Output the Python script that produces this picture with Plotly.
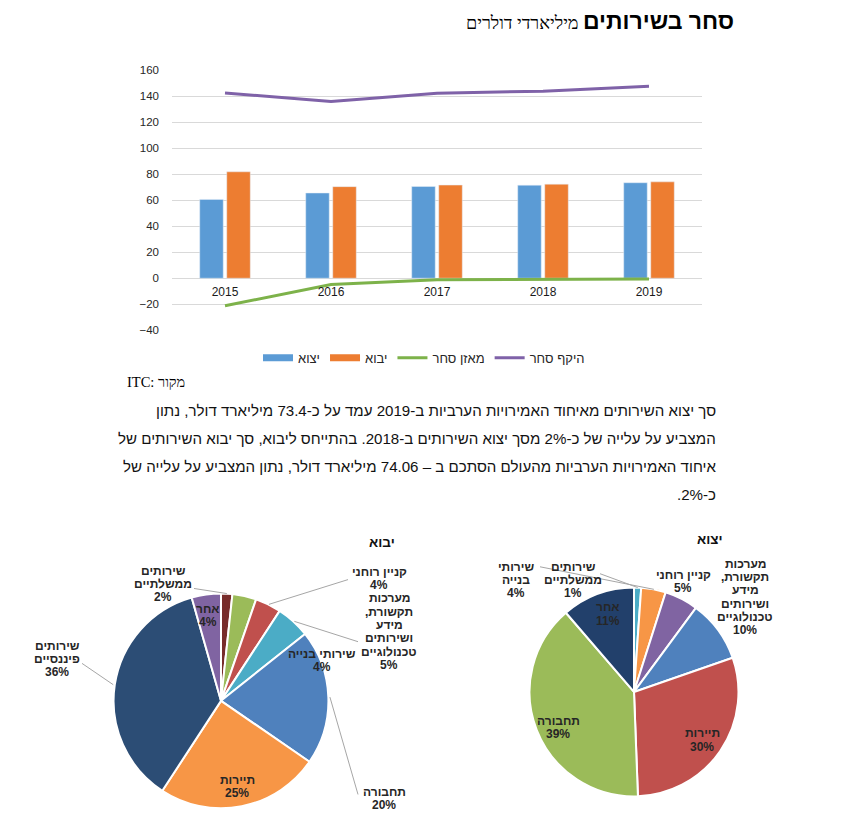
import math
import plotly.graph_objects as go

W, H = 849, 832

# ---------------- data ----------------
years = ["2015", "2016", "2017", "2018", "2019"]
exports = [60.6, 65.5, 70.5, 71.5, 73.4]
imports = [81.8, 70.4, 71.6, 72.3, 74.06]
balance = [-21.2, -4.9, -1.1, -0.8, -0.7]
total = [142.4, 135.9, 142.1, 143.8, 147.5]
y_ticks = [-40, -20, 0, 20, 40, 60, 80, 100, 120, 140, 160]
series_names = ["יצוא", "יבוא", "מאזן סחר", "היקף סחר"]

imp_names = ["שירותים ממשלתיים", "שירותי בנייה", "קניין רוחני",
             "מערכות תקשורת, מידע ושירותים טכנולוגיים", "תחבורה", "תיירות",
             "שירותים פיננסיים", "אחר"]
imp_values = [1.7, 3.6, 3.9, 5.1, 20.3, 24.6, 36.4, 4.4]

exp_names = ["שירותים ממשלתיים", "שירותי בנייה", "קניין רוחני",
             "מערכות תקשורת, מידע ושירותים טכנולוגיים", "תיירות", "תחבורה", "אחר"]
exp_values = [1.1, 3.8, 5.2, 9.6, 29.7, 39.3, 11.3]

title_main = "סחר בשירותים"
title_sub = "מיליארדי דולרים"
source_text = "ITC: מקור"
paragraph = [
    "סך יצוא השירותים מאיחוד האמירויות הערביות ב-2019 עמד על כ-73.4 מיליארד דולר, נתון",
    "המצביע על עלייה של כ-2% מסך יצוא השירותים ב-2018. בהתייחס ליבוא, סך יבוא השירותים של",
    "איחוד האמירויות הערביות מהעולם הסתכם ב – 74.06 מיליארד דולר, נתון המצביע על עלייה של",
    "כ-2%.",
]
pie_titles = ["יבוא", "יצוא"]

# ---------------- styles ----------------
C_EXP, C_IMP, C_BAL, C_TOT = "#5B9BD5", "#ED7D31", "#7DB24A", "#7F62A8"
imp_colors = ["#772C2A", "#9BBB59", "#C0504D", "#4BACC6", "#4F81BD", "#F79646", "#2C4D75", "#8064A2"]
exp_colors = ["#4BACC6", "#F79646", "#8064A2", "#4F81BD", "#C0504D", "#9BBB59", "#22406B"]
SANS = "Liberation Sans, Arimo, DejaVu Sans, sans-serif"
SERIF = "Liberation Serif, Tinos, DejaVu Serif, serif"
RLE, PDF = "\u202b", "\u202c"


def xp(px):
    return px / W


def yp(py):
    return 1 - py / H


fig = go.Figure()

# ---------------- bar / line chart ----------------
PL, PR, PT, PB = 172, 702, 65, 329
fig.add_trace(go.Bar(x=years, y=exports, marker_color=C_EXP, name=series_names[0],
                     showlegend=False, xaxis="x", yaxis="y"))
fig.add_trace(go.Bar(x=years, y=imports, marker_color=C_IMP, name=series_names[1],
                     showlegend=False, xaxis="x", yaxis="y"))
fig.add_trace(go.Scatter(x=years, y=balance, mode="lines", line=dict(color=C_BAL, width=3),
                         name=series_names[2], legendrank=3, xaxis="x", yaxis="y"))
fig.add_trace(go.Scatter(x=years, y=total, mode="lines", line=dict(color=C_TOT, width=3),
                         name=series_names[3], legendrank=4, xaxis="x", yaxis="y"))
# legend entries for bars (flat wide swatches like the original)
fig.add_trace(go.Scatter(x=[None], y=[None], mode="lines", line=dict(color=C_EXP, width=7),
                         name=series_names[0], legendrank=1, xaxis="x", yaxis="y"))
fig.add_trace(go.Scatter(x=[None], y=[None], mode="lines", line=dict(color=C_IMP, width=7),
                         name=series_names[1], legendrank=2, xaxis="x", yaxis="y"))

ymin, ymax = y_ticks[0], y_ticks[-1]
y_dom = [yp(PB), yp(PT)]
zero_pos = y_dom[0] + (0 - ymin) / (ymax - ymin) * (y_dom[1] - y_dom[0])

# ---------------- pies ----------------
PIES = [(221, 705, 109), (634, 696, 106)]


def dom(cx, cy, r):
    return dict(x=[xp(cx - r), xp(cx + r)], y=[yp(cy + r), yp(cy - r)])


fig.add_trace(go.Pie(labels=imp_names, values=imp_values, sort=False, direction="clockwise",
                     rotation=0, textinfo="none", hoverinfo="label+percent",
                     marker=dict(colors=imp_colors, line=dict(color="white", width=2)),
                     domain=dom(*PIES[0]), showlegend=False))
fig.add_trace(go.Pie(labels=exp_names, values=exp_values, sort=False, direction="clockwise",
                     rotation=0, textinfo="none", hoverinfo="label+percent",
                     marker=dict(colors=exp_colors, line=dict(color="white", width=2)),
                     domain=dom(*PIES[1]), showlegend=False))

annotations = []
shapes = []


def text(s, x, y, size, color="#1a1a1a", family=SANS, bold=False, xanchor="center",
         yanchor="middle"):
    annotations.append(dict(text=s, x=xp(x), y=yp(y), xref="paper", yref="paper",
                            showarrow=False, xanchor=xanchor, yanchor=yanchor,
                            font=dict(size=size, color=color, family=family,
                                      weight="bold" if bold else "normal")))


def block(lines, cx, y_first, spacing=13.5, size=12, color="#262626"):
    for i, ln in enumerate(lines):
        text(RLE + ln + PDF, cx, y_first + i * spacing, size, color=color, bold=True)


def pct(values, i):
    return f"{round(values[i] / sum(values) * 100)}%"


def edge(values, i, cx, cy, r):
    tot = sum(values)
    frac = (sum(values[:i]) + values[i] / 2) / tot
    a = 2 * math.pi * frac
    return cx + r * math.sin(a), cy - r * math.cos(a)


def leader(x0, y0, pt):
    shapes.append(dict(type="line", xref="paper", yref="paper", x0=xp(x0), y0=yp(y0),
                       x1=xp(pt[0]), y1=yp(pt[1]), line=dict(color="#A6A6A6", width=1)))


# titles
text(title_main, 736, 15, 23, color="#000000", bold=True, xanchor="right")
text(title_sub, 581, 17, 18, color="#000000", family=SERIF, xanchor="right")
text(source_text, 125, 381, 14.5, color="#000000", family=SERIF, xanchor="left")

# paragraph
for i, ln in enumerate(paragraph):
    text(RLE + ln + PDF, 718, 410 + i * 28.5, 15.1, color="#111111", xanchor="right")

# pie titles
text(pie_titles[0], 382, 544, 13.5, color="#111111", bold=True)
text(pie_titles[1], 710, 541, 13.5, color="#111111", bold=True)

# import pie labels
L = PIES[0]
block(["שירותים", "ממשלתיים", pct(imp_values, 0)], 163, 573)
leader(194, 591, edge(imp_values, 0, *L))
block(["קניין רוחני", pct(imp_values, 2)], 379, 574)
leader(348, 582, edge(imp_values, 2, *L))
block(["מערכות", "תקשורת,", "מידע", "ושירותים", "טכנולוגיים", pct(imp_values, 3)], 389, 601)
leader(358, 645, edge(imp_values, 3, *L))
block(["שירותי בנייה", pct(imp_values, 1)], 322, 657)
block(["שירותים", "פיננסיים", pct(imp_values, 6)], 57, 649)
leader(82, 667, edge(imp_values, 6, *L))
block(["תחבורה", pct(imp_values, 4)], 384, 797)
leader(358, 800, edge(imp_values, 4, *L))
block(["תיירות", pct(imp_values, 5)], 237, 785)
block(["אחר", pct(imp_values, 7)], 208, 612)

# export pie labels
R = PIES[1]
block(["שירותי", "בנייה", pct(exp_values, 1)], 516, 569)
leader(540, 569, edge(exp_values, 1, *R))
block(["שירותים", "ממשלתיים", pct(exp_values, 0)], 573, 569)
leader(600, 576, edge(exp_values, 0, *R))
block(["קניין רוחני", pct(exp_values, 2)], 683, 577)
block(["מערכות", "תקשורת,", "מידע", "ושירותים", "טכנולוגיים", pct(exp_values, 3)], 745, 566)
block(["אחר", pct(exp_values, 6)], 608, 610)
block(["תחבורה", pct(exp_values, 5)], 558, 725)
block(["תיירות", pct(exp_values, 4)], 702, 738)

fig.update_layout(
    width=W, height=H,
    margin=dict(l=0, r=0, t=0, b=0),
    paper_bgcolor="white", plot_bgcolor="white",
    font=dict(family=SANS, color="#262626"),
    barmode="group", bargap=0.49, bargroupgap=0.13,
    xaxis=dict(domain=[xp(PL), xp(PR)], type="category", range=[-0.5, 4.5],
               anchor="free", position=zero_pos, showgrid=False, showline=False,
               ticks="", zeroline=False, ticklabelstandoff=5,
               tickfont=dict(size=12, color="#1a1a1a", family=SANS)),
    yaxis=dict(domain=y_dom, range=[ymin, ymax], tickvals=y_ticks,
               showgrid=True, gridcolor="#D9D9D9", gridwidth=1,
               zeroline=True, zerolinecolor="#D9D9D9", zerolinewidth=1,
               showline=False, ticks="", ticklabelstandoff=12,
               tickfont=dict(size=11.5, color="#262626", family=SANS)),
    legend=dict(orientation="h", x=xp(424), xanchor="center", y=yp(357), yanchor="middle",
                font=dict(size=13, color="#262626", family=SANS), itemwidth=30,
                bgcolor="rgba(0,0,0,0)"),
    annotations=annotations,
    shapes=shapes,
)

fig.write_html("out.html", config={"displayModeBar": False},
               post_script="document.body.style.margin='0';")
